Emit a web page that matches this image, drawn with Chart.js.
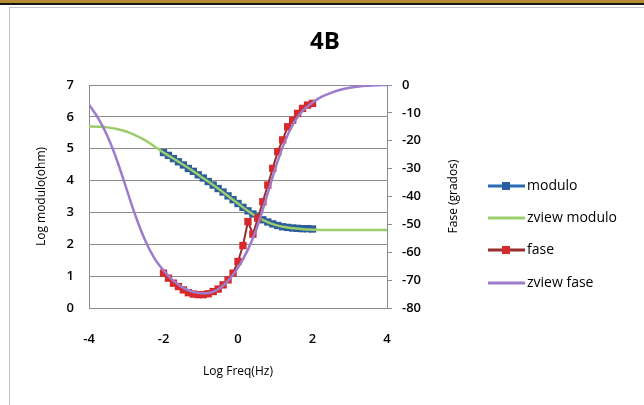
<!DOCTYPE html>
<html>
<head>
<meta charset="utf-8">
<script src="https://cdn.jsdelivr.net/npm/chart.js@4.4.1/dist/chart.umd.min.js"></script>
<style>
  html, body { margin: 0; padding: 0; background: #fff; }
  #wrap { position: relative; width: 644px; height: 405px; overflow: hidden; background: #fff; }
  #band { position: absolute; left: 0; top: 0; width: 644px; height: 3px; background: #B98A36; }
  #rule { position: absolute; left: 0; top: 3px; width: 644px; height: 2px; background: #161616; }
  #frame { position: absolute; left: 9px; top: 7px; width: 640px; height: 402px; border: 1px solid #c4c4c4; box-sizing: border-box; }
  canvas { position: absolute; left: 0; top: 0; }
</style>
</head>
<body>
<div id="wrap">
  <div id="band"></div>
  <div id="rule"></div>
  <div id="frame"></div>
  <canvas id="chart" width="644" height="405"></canvas>
</div>
<script>
// Measured impedance points (log10 of frequency in Hz)
const freqLog = [-2.0, -1.867, -1.733, -1.6, -1.467, -1.333, -1.2, -1.067, -0.933, -0.8,
                 -0.667, -0.533, -0.4, -0.267, -0.133, 0.0, 0.133, 0.267, 0.4, 0.533,
                 0.667, 0.8, 0.933, 1.067, 1.2, 1.333, 1.467, 1.6, 1.733, 1.867, 2.0];
// log10 |Z| (ohm)
const moduloLog = [4.88, 4.79, 4.69, 4.59, 4.49, 4.38, 4.29, 4.18, 4.08, 3.97,
                   3.86, 3.75, 3.64, 3.52, 3.40, 3.28, 3.16, 3.05, 2.95, 2.86,
                   2.77, 2.70, 2.64, 2.59, 2.55, 2.53, 2.51, 2.50, 2.49, 2.49, 2.48];
// phase angle (degrees)
const faseDeg = [-67.5, -69.3, -71.1, -72.3, -73.5, -74.5, -75.0, -75.2, -75.2, -74.9,
                 -74.1, -73.2, -71.7, -69.9, -67.5, -63.3, -57.6, -49.0, -53.5, -47.8,
                 -41.9, -35.9, -29.9, -23.9, -19.7, -15.0, -12.6, -10.2, -8.4, -7.2, -6.6];

// ZView fitted curves
const fitFreqLog = [-4, -3.75, -3.5, -3.25, -3, -2.75, -2.5, -2.25, -2, -1.75, -1.5,
                    -1.25, -1, -0.75, -0.5, -0.25, 0, 0.25, 0.5, 0.75, 1, 1.25, 1.5,
                    1.75, 2, 2.25, 2.5, 2.75, 3, 3.25, 3.5, 3.75, 4];
const fitModuloLog = [5.70, 5.69, 5.67, 5.62, 5.54, 5.42, 5.27, 5.08, 4.88, 4.70, 4.52,
                      4.33, 4.13, 3.93, 3.72, 3.50, 3.28, 3.06, 2.87, 2.72, 2.61, 2.54, 2.50,
                      2.47, 2.46, 2.45, 2.45, 2.45, 2.45, 2.45, 2.45, 2.45, 2.45];
const fitFaseDeg = [-7, -12, -18.5, -27, -37, -47, -55.5, -62, -66.5, -70, -72.5,
                    -74, -74.7, -74.5, -73, -70, -65.5, -59.5, -51.5, -41, -30, -20.5, -13.5,
                    -9, -6.3, -4.2, -2.8, -1.7, -1.0, -0.5, -0.25, -0.1, 0];

const seriesNames = ['modulo', 'zview modulo', 'fase', 'zview fase'];
const chartTitle = '4B';
const xTitle = 'Log Freq(Hz)';
const yTitle = 'Log modulo(ohm)';
const y1Title = 'Fase (grados)';

const pts = (xs, ys) => xs.map((x, i) => ({ x: x, y: ys[i] }));

const COLORS = {
  modLine: '#2A6BB5', modMark: '#2C5E9E',
  fitMod: '#9CCD6B',
  faseLine: '#9A2D2D', faseMark: '#D7282B',
  fitFase: '#9C7CCB'
};

const FONT = '"Open Sans", "Liberation Sans", sans-serif';

// Axis titles, chart title and legend, drawn at fixed spots around the plot
const textsPlugin = {
  id: 'chartTexts',
  afterDraw(chart) {
    const ctx = chart.ctx;
    const a = chart.chartArea;
    ctx.save();
    ctx.fillStyle = '#000';
    ctx.textBaseline = 'middle';

    ctx.textAlign = 'center';
    ctx.font = 'bold 24px ' + FONT;
    ctx.fillText(chartTitle, 325, 42);

    ctx.font = '12px ' + FONT;
    ctx.fillText(xTitle, (a.left + a.right) / 2, 372);

    ctx.save();
    ctx.translate(42, (a.top + a.bottom) / 2);
    ctx.rotate(-Math.PI / 2);
    ctx.fillText(yTitle, 0, 0);
    ctx.restore();

    ctx.save();
    ctx.translate(454, (a.top + a.bottom) / 2);
    ctx.rotate(-Math.PI / 2);
    ctx.fillText(y1Title, 0, 0);
    ctx.restore();

    // legend
    const items = [
      { line: COLORS.modLine, mark: COLORS.modMark, w: 3 },
      { line: COLORS.fitMod, mark: null, w: 3 },
      { line: COLORS.faseLine, mark: COLORS.faseMark, w: 3 },
      { line: COLORS.fitFase, mark: null, w: 3 }
    ];
    const rowY = [186, 218, 250, 283];
    ctx.font = '14px ' + FONT;
    ctx.textAlign = 'left';
    items.forEach((it, i) => {
      const y = rowY[i];
      ctx.strokeStyle = it.line;
      ctx.lineWidth = it.w;
      ctx.beginPath();
      ctx.moveTo(488, y);
      ctx.lineTo(525, y);
      ctx.stroke();
      if (it.mark) {
        ctx.fillStyle = it.mark;
        ctx.fillRect(502, y - 4, 8, 8);
      }
      ctx.fillStyle = '#000';
      ctx.fillText(seriesNames[i], 527, y);
    });
    ctx.restore();
  }
};

new Chart(document.getElementById('chart'), {
  type: 'scatter',
  data: {
    datasets: [
      {
        label: seriesNames[0],
        data: pts(freqLog, moduloLog),
        yAxisID: 'y',
        showLine: true,
        borderColor: COLORS.modLine,
        borderWidth: 2.5,
        pointStyle: 'rect',
        pointRadius: 5.2,
        pointBackgroundColor: COLORS.modMark,
        pointBorderColor: COLORS.modMark,
        pointBorderWidth: 0,
        tension: 0,
        order: 4
      },
      {
        label: seriesNames[1],
        data: pts(fitFreqLog, fitModuloLog),
        yAxisID: 'y',
        showLine: true,
        borderColor: COLORS.fitMod,
        borderWidth: 2.5,
        pointRadius: 0,
        cubicInterpolationMode: 'monotone',
        order: 3
      },
      {
        label: seriesNames[2],
        data: pts(freqLog, faseDeg),
        yAxisID: 'y1',
        showLine: true,
        borderColor: COLORS.faseLine,
        borderWidth: 2,
        pointStyle: 'rect',
        pointRadius: 5.2,
        pointBackgroundColor: COLORS.faseMark,
        pointBorderColor: COLORS.faseMark,
        pointBorderWidth: 0,
        tension: 0,
        order: 2
      },
      {
        label: seriesNames[3],
        data: pts(fitFreqLog, fitFaseDeg),
        yAxisID: 'y1',
        showLine: true,
        borderColor: COLORS.fitFase,
        borderWidth: 2.5,
        pointRadius: 0,
        cubicInterpolationMode: 'monotone',
        order: 1
      }
    ]
  },
  options: {
    responsive: false,
    animation: false,
    events: [],
    layout: { padding: { top: 85, left: 0, right: 0, bottom: 0 } },
    plugins: {
      legend: { display: false },
      title: { display: false },
      tooltip: { enabled: false }
    },
    scales: {
      x: {
        type: 'linear',
        position: 'bottom',
        min: -4, max: 4,
        ticks: { stepSize: 2, color: '#000', padding: 15, font: { family: FONT, size: 13, weight: '600' } },
        grid: { display: false },
        border: { display: true, color: '#8c8c8c', width: 1 },
        afterFit(s) { s.height = 97; }
      },
      y: {
        position: 'left',
        min: 0, max: 7,
        ticks: { stepSize: 1, color: '#000', padding: 15, font: { family: FONT, size: 13, weight: '600' } },
        grid: { color: '#8c8c8c', lineWidth: 1, drawTicks: false },
        border: { display: true, color: '#8c8c8c', width: 1 },
        afterFit(s) { s.width = 89; }
      },
      y1: {
        position: 'right',
        min: -80, max: 0,
        ticks: { stepSize: 10, color: '#000', padding: 10, font: { family: FONT, size: 13, weight: '600' } },
        grid: { drawOnChartArea: false, drawTicks: true, tickLength: 5, color: '#8c8c8c' },
        border: { display: true, color: '#8c8c8c', width: 1 },
        afterFit(s) { s.width = 257; }
      }
    }
  },
  plugins: [textsPlugin]
});
</script>
</body>
</html>
